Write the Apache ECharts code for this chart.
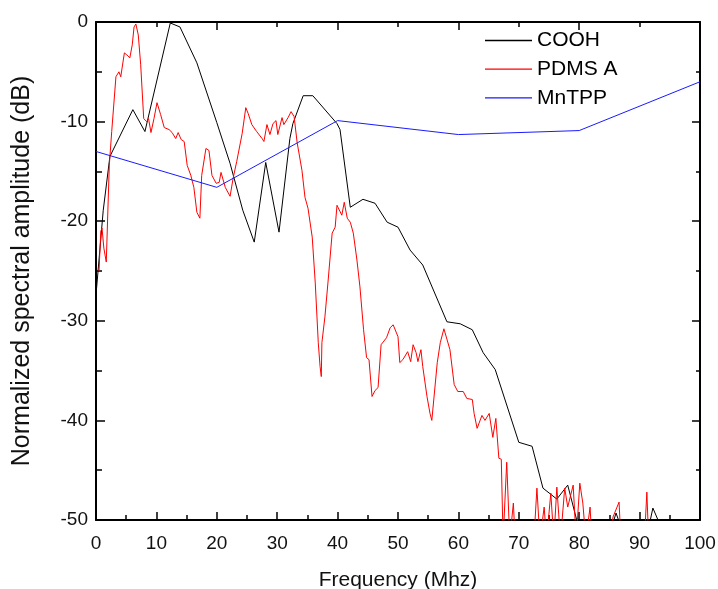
<!DOCTYPE html>
<html>
<head>
<meta charset="utf-8">
<script src="https://cdn.jsdelivr.net/npm/echarts@6/dist/echarts.min.js"></script>
<style>
html,body{margin:0;padding:0;background:#fff;}
#chart{width:718px;height:589px;}
</style>
</head>
<body>
<div id="chart"></div>
<script>
// Frequency (MHz) and normalized amplitude (dB)
var coohX = [0, 1.2, 2.3, 6.1, 8.1, 12.3, 13.9, 16.7, 20.0, 22.2, 24.3, 26.2, 28.1, 30.3, 32.1, 32.6, 34.3, 35.9, 39.9, 40.4, 42.1, 44.2, 46.2, 48.2, 50.0, 52.0, 54.1, 58.1, 60.3, 62.3, 64.1, 66.1, 70.0, 72.2, 74.0, 76.3, 78.1, 79.8, 85.5, 86.1, 86.8, 91.6, 92.2, 93.4];
var coohY = [-27.4, -18.9, -13.5, -8.8, -11.0, -0.1, -0.5, -4.1, -10.1, -14.2, -18.9, -22.1, -14.1, -21.1, -11.7, -10.2, -7.4, -7.4, -10.2, -10.8, -18.6, -17.8, -18.2, -20.1, -20.6, -22.9, -24.4, -30.1, -30.3, -30.9, -33.2, -34.9, -42.2, -42.6, -46.8, -47.9, -46.5, -50.5, -50.5, -49.3, -50.5, -50.5, -48.8, -50.5];

var pdmsX = [0.5, 0.8, 1.0, 1.3, 1.7, 2.2, 2.6, 3.3, 3.8, 4.1, 4.7, 5.1, 5.6, 6.0, 6.3, 6.6, 7.0, 7.4, 7.9, 8.4, 8.7, 9.1, 9.6, 10.1, 10.7, 11.3, 12.1, 12.6, 13.2, 13.6, 14.1, 14.6, 15.1, 15.7, 16.2, 16.7, 17.2, 17.5, 18.2, 18.7, 19.2, 19.9, 20.4, 20.7, 21.4, 22.2, 22.7, 23.3, 24.2, 24.8, 25.2, 25.8, 26.6, 27.5, 27.8, 28.3, 28.8, 29.3, 29.8, 30.1, 30.8, 31.1, 31.8, 32.3, 32.8, 33.3, 34.1, 34.6, 35.1, 35.8, 36.3, 36.8, 37.1, 37.3, 37.4, 37.9, 38.4, 39.1, 39.6, 39.9, 40.2, 40.7, 41.1, 41.6, 42.1, 42.6, 43.2, 43.7, 44.3, 44.8, 45.2, 45.7, 46.2, 46.7, 47.2, 47.5, 48.1, 48.7, 49.2, 49.5, 50.0, 50.3, 50.8, 51.6, 52.1, 52.5, 53.0, 53.3, 53.8, 54.1, 54.8, 55.3, 55.6, 56.5, 57.0, 57.6, 58.6, 59.3, 59.9, 60.8, 61.4, 62.3, 62.6, 63.1, 63.9, 64.4, 65.1, 65.7, 66.2, 66.7, 67.1, 67.4, 68.0, 68.5, 69.1, 69.4, 72.5, 73.0, 73.5, 74.2, 74.6, 75.3, 75.8, 76.3, 76.9, 77.6, 78.1, 79.0, 79.5, 80.1, 80.6, 81.1, 81.8, 82.1, 85.0, 85.6, 86.6, 86.9, 90.8, 91.2, 91.5, 92.5];
var pdmsY = [-25.0, -21.0, -20.7, -22.7, -24.1, -14.4, -11.0, -5.5, -5.0, -5.5, -3.1, -3.3, -3.6, -2.3, -0.5, -0.2, -1.3, -4.3, -9.7, -10.0, -9.7, -11.1, -9.7, -8.1, -9.3, -10.6, -10.8, -11.1, -11.7, -11.1, -11.8, -12.0, -14.4, -15.4, -16.6, -19.1, -19.7, -15.4, -12.7, -12.9, -15.4, -16.2, -16.1, -15.1, -16.6, -17.5, -15.7, -14.0, -11.2, -8.6, -9.2, -10.3, -11.0, -11.7, -12.0, -10.3, -11.3, -10.2, -9.9, -11.3, -9.6, -10.3, -9.6, -9.0, -9.5, -12.1, -14.9, -17.6, -18.7, -21.6, -26.2, -32.2, -34.6, -35.6, -32.2, -29.6, -26.2, -21.2, -20.6, -18.4, -18.2, -19.4, -18.1, -19.7, -20.1, -21.2, -23.9, -26.6, -30.9, -33.7, -33.9, -37.6, -37.0, -36.7, -32.4, -32.6, -31.7, -30.7, -30.4, -30.6, -31.6, -34.2, -33.9, -33.1, -34.1, -32.4, -33.2, -34.1, -32.9, -34.6, -37.6, -39.3, -40.0, -34.2, -32.2, -30.8, -32.9, -36.4, -37.1, -37.1, -37.8, -37.9, -39.3, -40.8, -39.5, -40.0, -39.3, -41.7, -39.8, -43.8, -43.9, -52, -44.2, -52, -48.3, -52, -52, -46.8, -52, -48.7, -52, -47.3, -52, -46.7, -52, -46.8, -48.7, -46.5, -52, -46.3, -48.3, -52, -48.7, -52, -52, -49.7, -48.2, -52, -52, -47.2, -52, -52];

var mntppX = [0, 20, 40, 60, 80, 100];
var mntppY = [-13.0, -16.6, -9.9, -11.3, -10.9, -6.0];

var seriesNames = ['COOH', 'PDMS A', 'MnTPP'];
var xTitle = 'Frequency (Mhz)';
var yTitle = 'Normalized spectral amplitude (dB)';

function zip(xs, ys) { return xs.map(function (x, i) { return [x, ys[i]]; }); }

var chart = echarts.init(document.getElementById('chart'), null, {renderer: 'canvas'});
var font = 'Liberation Sans, Arial, sans-serif';
var axisLineStyle = {color: '#000', width: 2};
var tickStyle = {color: '#000', width: 1.5};

chart.setOption({
  animation: false,
  backgroundColor: '#fff',
  grid: {left: 96, right: 18, top: 22, bottom: 69, containLabel: false, outerBoundsMode: 'none'},
  legend: {
    orient: 'vertical', left: 485, top: 30, padding: 0,
    icon: 'rect', itemWidth: 47, itemHeight: 1.3, itemGap: 7.7,
    textStyle: {fontFamily: font, fontSize: 21, color: '#000'},
    data: seriesNames
  },
  xAxis: [{
    type: 'value', min: 0, max: 100, interval: 10, position: 'bottom',
    name: xTitle, nameLocation: 'middle', nameGap: 50,
    nameTextStyle: {fontFamily: font, fontSize: 21, color: '#111'},
    axisLine: {show: true, onZero: false, lineStyle: axisLineStyle},
    axisTick: {show: true, inside: true, length: 8, lineStyle: tickStyle},
    minorTick: {show: true, splitNumber: 2, length: 5, lineStyle: tickStyle},
    axisLabel: {fontFamily: font, fontSize: 19, color: '#111', margin: 14},
    splitLine: {show: false}
  }, {
    type: 'value', min: 0, max: 100, interval: 20, position: 'top',
    axisLine: {show: true, onZero: false, lineStyle: axisLineStyle},
    axisTick: {show: true, inside: true, length: 8, lineStyle: tickStyle},
    minorTick: {show: true, splitNumber: 2, length: 5, lineStyle: tickStyle},
    axisLabel: {show: false},
    splitLine: {show: false}
  }],
  yAxis: [{
    type: 'value', min: -50, max: 0, interval: 10, position: 'left',
    name: yTitle, nameLocation: 'middle', nameGap: 61,
    nameTextStyle: {fontFamily: font, fontSize: 25, color: '#111'},
    axisLine: {show: true, onZero: false, lineStyle: axisLineStyle},
    axisTick: {show: true, inside: true, length: 9, lineStyle: tickStyle},
    minorTick: {show: true, splitNumber: 2, length: 6, lineStyle: tickStyle},
    axisLabel: {fontFamily: font, fontSize: 19, color: '#111', margin: 8},
    splitLine: {show: false}
  }, {
    type: 'value', min: -50, max: 0, interval: 10, position: 'right',
    axisLine: {show: true, onZero: false, lineStyle: axisLineStyle},
    axisTick: {show: true, inside: true, length: 8, lineStyle: tickStyle},
    minorTick: {show: true, splitNumber: 2, length: 4, lineStyle: tickStyle},
    axisLabel: {show: false},
    splitLine: {show: false}
  }],
  series: [{
    name: seriesNames[0], type: 'line', symbol: 'none', clip: true,
    data: zip(coohX, coohY),
    lineStyle: {color: '#000', width: 1}, itemStyle: {color: '#000'}
  }, {
    name: seriesNames[1], type: 'line', symbol: 'none', clip: true,
    data: zip(pdmsX, pdmsY),
    lineStyle: {color: '#ff0000', width: 1}, itemStyle: {color: '#ff0000'}
  }, {
    name: seriesNames[2], type: 'line', symbol: 'none', clip: true,
    data: zip(mntppX, mntppY),
    lineStyle: {color: '#1a1aff', width: 1}, itemStyle: {color: '#1a1aff'}
  }]
});
</script>
</body>
</html>
